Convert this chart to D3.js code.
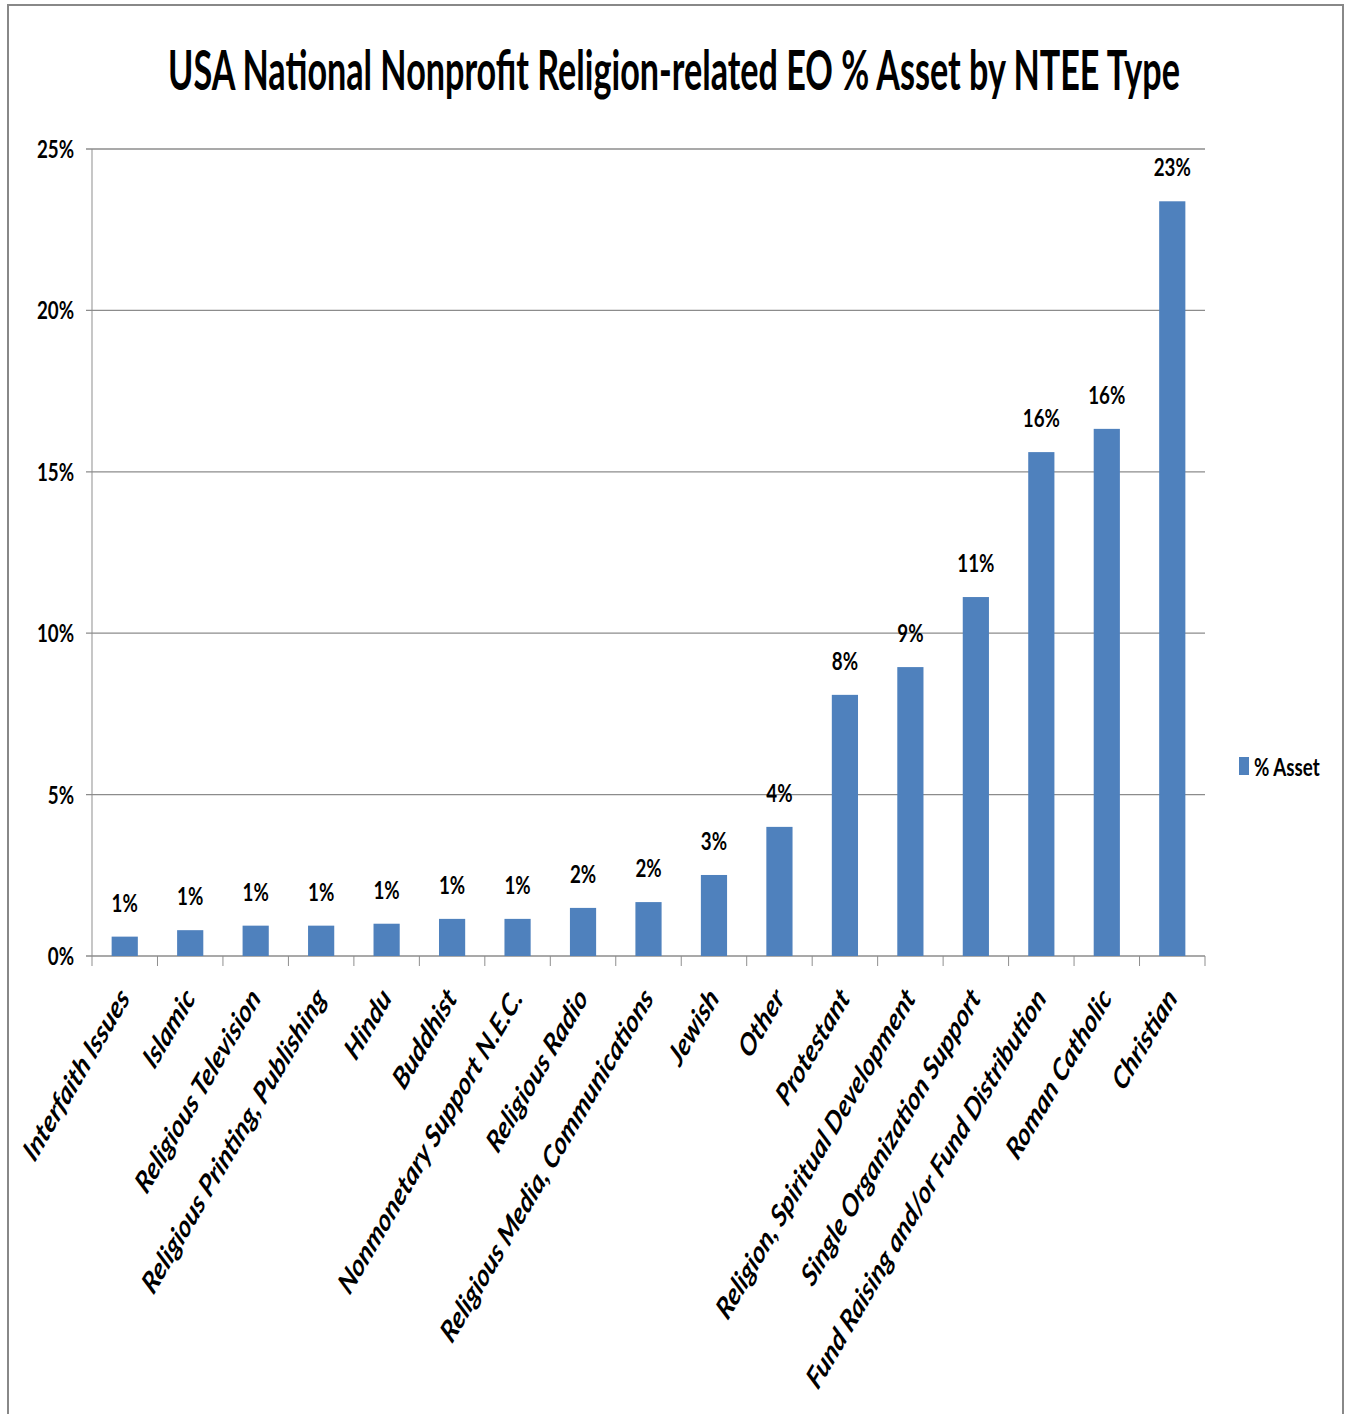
<!DOCTYPE html>
<html><head><meta charset="utf-8">
<script src="https://cdn.jsdelivr.net/npm/d3@7"></script>
<style>body{margin:0;background:#fff}svg{display:block}text{font-family:Lato,"Open Sans",sans-serif;font-weight:bold;fill:#000}</style>
</head><body>
<svg id="c" width="1347" height="1414"></svg>
<script>
const categories = ["Interfaith Issues","Islamic","Religious Television","Religious Printing, Publishing","Hindu","Buddhist","Nonmonetary Support N.E.C.","Religious Radio","Religious Media, Communications","Jewish","Other","Protestant","Religion, Spiritual Development","Single Organization Support","Fund Raising and/or Fund Distribution","Roman Catholic","Christian"];
const values = [0.60,0.80,0.94,0.94,1.00,1.15,1.15,1.49,1.67,2.51,4.00,8.09,8.95,11.12,15.61,16.33,23.38];
const dataLabels = ["1%","1%","1%","1%","1%","1%","1%","2%","2%","3%","4%","8%","9%","11%","16%","16%","23%"];
const yTicks = [0,5,10,15,20,25];
const title = "USA National Nonprofit Religion-related EO % Asset by NTEE Type";
const seriesName = "% Asset";

const sx = 0.75;
const svg = d3.select("#c");
svg.append("rect").attr("x",8).attr("y",5).attr("width",1335).attr("height",1420)
  .attr("fill","none").attr("stroke","#888").attr("stroke-width",2);
const g = svg.append("g").attr("transform",`scale(${sx},1)`);
const X = v => v / sx;

const x = d3.scaleBand().domain(categories).range([X(92), X(1205)]).paddingInner(0.6).paddingOuter(0.3);
const y = d3.scaleLinear().domain([0,25]).range([956,149]);
const step = x.step();

// gridlines
g.selectAll(".grid").data(yTicks).join("line")
  .attr("x1", X(86)).attr("x2", X(1205))
  .attr("y1", d=>y(d)).attr("y2", d=>y(d))
  .attr("stroke","#8c8c8c").attr("stroke-width",1.3);
// y axis line
g.append("line").attr("x1",X(92)).attr("x2",X(92)).attr("y1",y(25)).attr("y2",y(0)).attr("stroke","#8c8c8c").attr("stroke-width",1.3);
// y tick labels
g.selectAll(".yl").data(yTicks).join("text")
  .attr("x", X(74)).attr("y", d=>y(d)+9).attr("text-anchor","end")
  .attr("font-size",25).text(d=>d+"%");

// x ticks
const tickXs = d3.range(categories.length+1).map(i => X(92) + i*step);
g.selectAll(".xt").data(tickXs).join("line")
  .attr("x1",d=>d).attr("x2",d=>d).attr("y1",y(0)).attr("y2",y(0)+10)
  .attr("stroke","#8c8c8c").attr("stroke-width",1.3);

// bars
g.selectAll(".bar").data(categories).join("rect")
  .attr("x", d=>x(d)).attr("width", x.bandwidth())
  .attr("y", (d,i)=>y(values[i])).attr("height",(d,i)=>y(0)-y(values[i]))
  .attr("fill","#4f81bd");

// data labels
g.selectAll(".dl").data(categories).join("text")
  .attr("x", d=>x(d)+x.bandwidth()/2).attr("y",(d,i)=>y(values[i])-25)
  .attr("text-anchor","middle").attr("font-size",25).text((d,i)=>dataLabels[i]);

// x labels
g.selectAll(".xl").data(categories).join("text")
  .attr("transform", d=>`translate(${x(d)+x.bandwidth()/2+X(6)},${999}) rotate(-52)`)
  .attr("text-anchor","end").attr("font-size",31).attr("font-style","italic")
  .text(d=>d);

// title: measure and scale horizontally to fit reference width
const tt = g.append("text").attr("font-size",55).attr("text-anchor","middle").text(title);
const w = tt.node().getComputedTextLength();
tt.attr("transform", `translate(${X(674)},90) scale(${X(1012)/w},1)`);

// legend
g.append("rect").attr("x",X(1239)).attr("y",757).attr("width",X(10)).attr("height",18).attr("fill","#4f81bd");
g.append("text").attr("x",X(1254)).attr("y",776).attr("font-size",25).text(seriesName);
</script>
</body></html>
